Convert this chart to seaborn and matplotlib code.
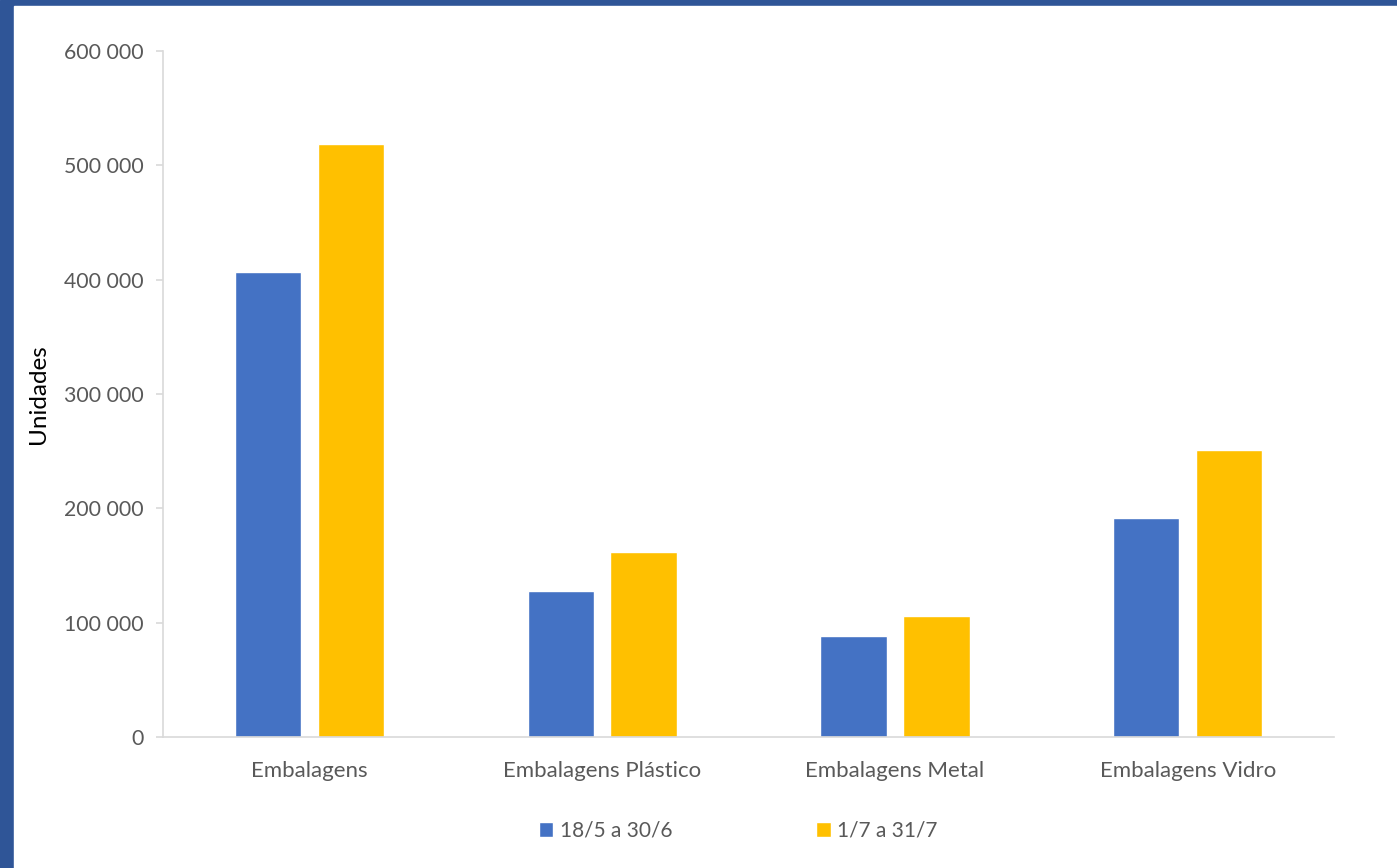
import pandas as pd
import matplotlib
matplotlib.use('Agg')
import matplotlib.pyplot as plt
from matplotlib.patches import Rectangle
from matplotlib.ticker import FuncFormatter, MultipleLocator
import seaborn as sns

categories = ["Embalagens", "Embalagens Plástico", "Embalagens Metal", "Embalagens Vidro"]
periods = ["18/5 a 30/6", "1/7 a 31/7"]
values_may_jun = [407000, 128000, 88000, 191500]
values_jul = [519000, 162000, 106000, 251000]

df = pd.DataFrame({
    "categoria": categories * 2,
    "periodo": [periods[0]] * 4 + [periods[1]] * 4,
    "unidades": values_may_jun + values_jul,
})

sns.set_theme(style="white")
plt.rcParams['font.family'] = ['Lato', 'DejaVu Sans']

fig = plt.figure(figsize=(13.97, 8.68), dpi=100)
# slide frame (dark blue border left/top)
fig.patches.append(Rectangle((0, 0), 1, 1, transform=fig.transFigure, color="#2F5597", zorder=-2))
fig.patches.append(Rectangle((14 / 1397, 0), 1, 1 - 6 / 868, transform=fig.transFigure,
                             color="white", zorder=-1))

ax = fig.add_axes([0.1167, 0.1509, 0.955 - 0.1167, 0.9412 - 0.1509])
ax.set_facecolor("none")

sns.barplot(data=df, x="categoria", y="unidades", hue="periodo", order=categories,
            hue_order=periods, palette=["#4472C4", "#FFC000"], width=0.566, gap=0.2,
            saturation=1, ax=ax)

ax.set_xlim(-0.5, 3.5)
ax.set_ylim(0, 600000)
ax.yaxis.set_major_locator(MultipleLocator(100000))
ax.yaxis.set_major_formatter(FuncFormatter(lambda v, p: f"{int(v):,}".replace(",", " ")))

for side in ["top", "right"]:
    ax.spines[side].set_visible(False)
for side in ["left", "bottom"]:
    ax.spines[side].set_color("#D9D9D9")
    ax.spines[side].set_linewidth(1.2)

ax.tick_params(axis="y", left=True, length=5, width=1.2, color="#D9D9D9",
               labelsize=15.3, labelcolor="#595959", pad=9)
ax.tick_params(axis="x", bottom=False, length=0, labelsize=16, labelcolor="#595959", pad=17)

ax.set_xlabel("")
ax.set_ylabel("Unidades", fontsize=17.5, color="black")
ax.yaxis.set_label_coords(-0.097, 0.5)

handles, labels = ax.get_legend_handles_labels()
ax.legend(handles, labels, loc="center", bbox_to_anchor=(0.491, -0.137), ncol=2,
          frameon=False, fontsize=15, labelcolor="#595959", handlelength=0.7,
          handleheight=0.7, handletextpad=0.3, columnspacing=6.9)

fig.savefig("out.png", dpi=100)
plt.close(fig)
